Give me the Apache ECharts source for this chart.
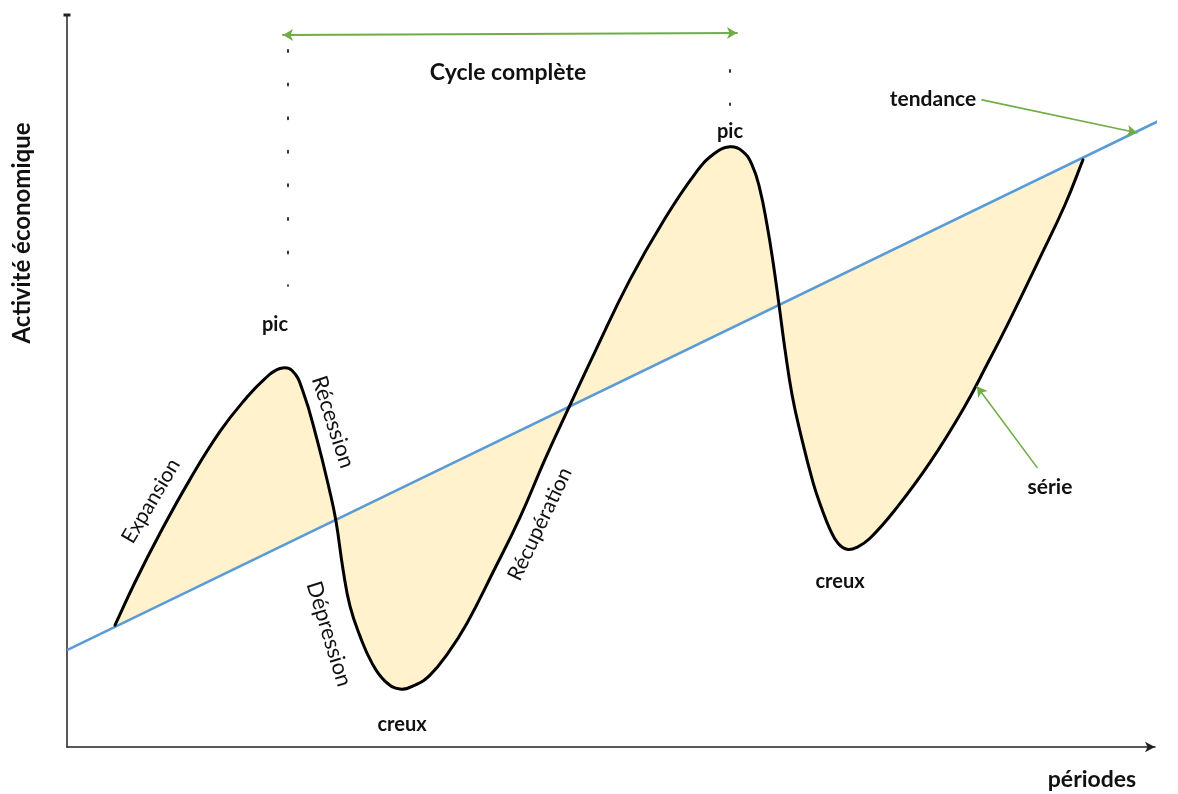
<!DOCTYPE html>
<html>
<head>
<meta charset="utf-8">
<script src="https://cdn.jsdelivr.net/npm/echarts@6/dist/echarts.min.js"></script>
<style>
html, body { margin: 0; padding: 0; background: #fff; }
#chart { width: 1178px; height: 794px; }
</style>
</head>
<body>
<div id="chart"></div>
<script>
// série : activité économique par période
const serieX = [4.8, 6.8, 9.3, 12.3, 15.3, 17.8, 19.8, 21.3, 22.5, 23.6, 25.0, 26.3, 26.9, 27.6, 28.3, 29.3, 30.5, 31.8,
  33.3, 34.8, 36.3, 38.1, 40.0, 42.6, 45.3, 47.8, 50.1, 52.9, 56.3, 59.6, 62.8, 64.7, 66.3,
  67.5, 68.5, 69.3, 70.0, 70.6, 71.2, 71.8, 72.5, 73.3, 74.6, 75.5, 76.3, 77.1, 78.0,
  79.0, 80.3, 83.0, 86.3, 89.6, 92.0, 94.3, 97.3, 99.8, 101.6]
const serieY = [12.2, 16.5, 21.4, 26.8, 31.6, 34.8, 36.9, 37.9, 37.7, 35.6, 30.8, 25.5, 22.6, 17.8, 14.1, 11.1, 8.4, 6.6,
  5.8, 6.2, 7.2, 9.4, 12.4, 17.5, 23.0, 28.8, 33.8, 39.8, 46.8, 52.6, 57.4, 59.4, 60.1,
  59.7, 58.3, 55.8, 52.3, 48.6, 44.3, 39.8, 35.3, 31.6, 26.5, 23.8, 21.8, 20.4, 19.8,
  20.0, 20.9, 24.0, 28.5, 33.8, 38.3, 42.8, 49.0, 54.3, 58.8]

// tendance (droite)
const trendX = [0, 109.8]
const trendY = [9.7, 63.0]

// annotations (repères en unités du graphique)
const cycleArrow = [[21.6, 71.3], [67.0, 71.5]]
const tendanceArrow = [[91.5, 64.8], [107.0, 61.5]]
const serieArrow = [[97.0, 28.0], [91.0, 36.1]]
const picDotsLeft = [[22.1, 69.8], [22.1, 46.2]]
const picDotsRight = [[66.3, 67.8], [66.3, 64.3]]

const GREEN = '#70ad47'
const FONT = 'Lato, "Open Sans", sans-serif'

function dist(a, b) { return Math.hypot(a[0] - b[0], a[1] - b[1]) }

// courbe lissée passant par les points (bezier)
function smoothPath(pts, k) {
  let d = 'M' + pts[0][0] + ',' + pts[0][1]
  for (let i = 0; i < pts.length - 1; i++) {
    const p0 = pts[i - 1] || pts[i], p1 = pts[i], p2 = pts[i + 1], p3 = pts[i + 2] || pts[i + 1]
    const d01 = dist(p0, p1), d12 = dist(p1, p2), d23 = dist(p2, p3)
    const a = d12 / ((d01 + d12) || 1) * k
    const b = d12 / ((d12 + d23) || 1) * k
    const c1 = [p1[0] + (p2[0] - p0[0]) * a, p1[1] + (p2[1] - p0[1]) * a]
    const c2 = [p2[0] - (p3[0] - p1[0]) * b, p2[1] - (p3[1] - p1[1]) * b]
    d += ' C' + c1[0] + ',' + c1[1] + ' ' + c2[0] + ',' + c2[1] + ' ' + p2[0] + ',' + p2[1]
  }
  return d
}

function serieShape(api, fill) {
  const pts = serieX.map((x, i) => api.coord([x, serieY[i]]))
  const d = smoothPath(pts, 0.45)
  if (fill) {
    return { type: 'path', shape: { pathData: d + ' Z' }, style: { fill: '#fff2cc', stroke: null } }
  }
  return { type: 'path', shape: { pathData: d }, style: { fill: null, stroke: '#000', lineWidth: 3, lineJoin: 'round', lineCap: 'round' } }
}

function label(text, x, y, size, bold, rot) {
  return {
    type: 'text', x: x, y: y, rotation: (rot || 0) * Math.PI / 180, z: 100,
    style: {
      text: text, fill: '#111', fontSize: size, fontWeight: bold ? 'bold' : 'normal', fontFamily: FONT,
      align: 'center', verticalAlign: 'middle', textAlign: 'center', textVerticalAlign: 'middle'
    }
  }
}

const chart = echarts.init(document.getElementById('chart'))

chart.setOption({
  animation: false,
  grid: { left: 67, right: 23, top: 15, bottom: 47 },
  xAxis: {
    type: 'value', min: 0, max: 108.8,
    axisLine: { show: true, symbol: ['none', 'arrow'], symbolSize: [8, 10], lineStyle: { color: '#222', width: 1.5 } },
    axisTick: { show: false }, axisLabel: { show: false }, splitLine: { show: false }
  },
  yAxis: {
    type: 'value', min: 0, max: 73.3,
    axisLine: { show: true, symbol: ['none', 'rect'], symbolSize: [7, 3], lineStyle: { color: '#222', width: 1.5 } },
    axisTick: { show: false }, axisLabel: { show: false }, splitLine: { show: false }
  },
  series: [
    {
      type: 'custom', name: 'aire', coordinateSystem: 'cartesian2d', clip: false, z: 1, silent: true,
      data: [[serieX[0], serieY[0]]],
      renderItem: (params, api) => serieShape(api, true)
    },
    {
      type: 'line', name: 'tendance', z: 2, clip: false, silent: true,
      data: trendX.map((x, i) => [x, trendY[i]]),
      symbol: 'none', lineStyle: { color: '#5b9bd5', width: 2.5 },
      markLine: {
        silent: true, animation: false, label: { show: false },
        symbol: ['none', 'none'],
        lineStyle: { color: '#333', width: 2, type: [2, 31.6], cap: 'round' },
        data: [
          [{ coord: picDotsLeft[0] }, { coord: picDotsLeft[1] }],
          [{ coord: picDotsRight[0] }, { coord: picDotsRight[1] }],
          [{ coord: cycleArrow[0], symbol: 'arrow', symbolSize: [9, 10], lineStyle: { color: GREEN, width: 2, type: 'solid' } },
           { coord: cycleArrow[1], symbol: 'arrow', symbolSize: [9, 10] }],
          [{ coord: tendanceArrow[0], symbol: 'none', lineStyle: { color: GREEN, width: 1.6, type: 'solid' } },
           { coord: tendanceArrow[1], symbol: 'arrow', symbolSize: [9, 10] }],
          [{ coord: serieArrow[0], symbol: 'none', lineStyle: { color: GREEN, width: 1.6, type: 'solid' } },
           { coord: serieArrow[1], symbol: 'arrow', symbolSize: [9, 10] }]
        ]
      }
    },
    {
      type: 'custom', name: 'série', coordinateSystem: 'cartesian2d', clip: false, z: 3, silent: true,
      data: [[serieX[0], serieY[0]]],
      renderItem: (params, api) => serieShape(api, false)
    }
  ],
  graphic: [
    label('Activité économique', 22, 233, 24, true, 90),
    label('périodes', 1092, 780, 23, true),
    label('Cycle complète', 508, 73, 23, true),
    label('pic', 275, 325, 20, true),
    label('pic', 730, 132, 20, true),
    label('creux', 402, 725, 20, true),
    label('creux', 840, 582, 20, true),
    label('tendance', 933, 99, 21, true),
    label('série', 1050, 487, 21, true),
    label('Expansion', 151, 501, 21, false, 59.4),
    label('Récession', 333, 422, 22, false, -72),
    label('Dépression', 329, 634, 22, false, -73),
    label('Récupération', 540, 524, 21, false, 64.6)
  ]
})
</script>
</body>
</html>
